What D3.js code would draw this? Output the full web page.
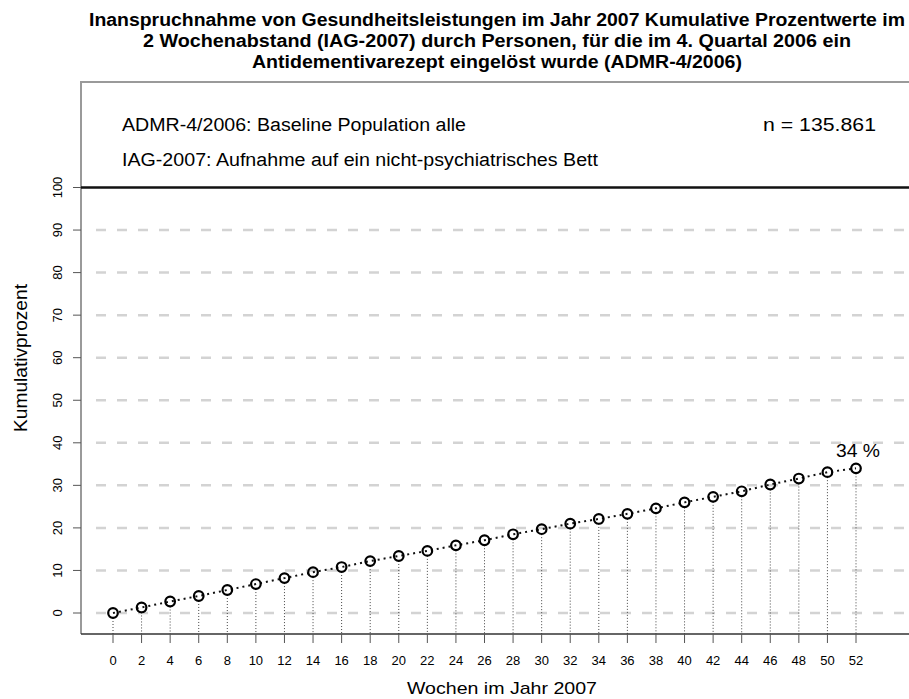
<!DOCTYPE html>
<html>
<head>
<meta charset="utf-8">
<script src="https://cdn.jsdelivr.net/npm/d3@7"></script>
<style>
  html, body { margin: 0; padding: 0; background: #fff; }
  svg { display: block; }
  text { font-family: "Liberation Sans", Arial, Helvetica, sans-serif; fill: #000; }
</style>
</head>
<body>
<svg id="chart" width="909" height="699"></svg>
<script>
// Kumulative Anteile je 2-Wochen-Schritt (Prozent)
const weeks = [0, 2, 4, 6, 8, 10, 12, 14, 16, 18, 20, 22, 24, 26, 28, 30, 32, 34, 36, 38, 40, 42, 44, 46, 48, 50, 52];
const cumulativePercent = [0, 1.3, 2.7, 4.0, 5.4, 6.8, 8.2, 9.6, 10.8, 12.2, 13.4, 14.6, 15.9, 17.1, 18.5, 19.7, 21.0, 22.1, 23.3, 24.6, 26.0, 27.3, 28.6, 30.2, 31.6, 33.1, 34];
const yTicks = [0, 10, 20, 30, 40, 50, 60, 70, 80, 90, 100];
const gridValues = [0, 10, 20, 30, 40, 50, 60, 70, 80, 90];

const titleLines = [
  "Inanspruchnahme von Gesundheitsleistungen im Jahr 2007 Kumulative Prozentwerte im",
  "2 Wochenabstand (IAG-2007) durch Personen, für die im 4. Quartal 2006 ein",
  "Antidementivarezept eingelöst wurde (ADMR-4/2006)"
];
const infoLines = [
  "ADMR-4/2006: Baseline Population alle",
  "IAG-2007: Aufnahme auf ein nicht-psychiatrisches Bett"
];
const sampleSize = "n = 135.861";
const xTitle = "Wochen im Jahr 2007";
const yTitle = "Kumulativprozent";

const svg = d3.select("#chart");

// Plot frame
const frame = { left: 81, top: 82, bottom: 634, right: 923 };

const x = d3.scaleLinear().domain([0, 52]).range([113, 856]);
const y = d3.scaleLinear().domain([0, 100]).range([613, 187.5]);

// Title
const titleWidths = [816, 708, 490];
titleLines.forEach((t, i) => {
  svg.append("text")
    .attr("x", 497)
    .attr("y", 26 + i * 21)
    .attr("text-anchor", "middle")
    .attr("font-weight", "bold")
    .attr("font-size", 17.5)
    .attr("textLength", titleWidths[i])
    .attr("lengthAdjust", "spacingAndGlyphs")
    .text(t);
});

// Frame border (top and left)
svg.append("path")
  .attr("d", `M${frame.left},${frame.bottom} V${frame.top} H${frame.right + 20}`)
  .attr("fill", "none")
  .attr("stroke", "#9a9a9a")
  .attr("stroke-width", 2);

// Dashed grid
svg.append("g").selectAll("line")
  .data(gridValues)
  .join("line")
  .attr("x1", 96)
  .attr("x2", frame.right + 20)
  .attr("y1", d => y(d))
  .attr("y2", d => y(d))
  .attr("stroke", "#d3d3d3")
  .attr("stroke-width", 2.5)
  .attr("stroke-dasharray", "10,11");

// 100 % reference line
svg.append("line")
  .attr("x1", frame.left)
  .attr("x2", frame.right + 20)
  .attr("y1", y(100))
  .attr("y2", y(100))
  .attr("stroke", "#111")
  .attr("stroke-width", 2.5);

// Info text
svg.append("text").attr("x", 122).attr("y", 131).attr("font-size", 18)
  .attr("textLength", 344).attr("lengthAdjust", "spacingAndGlyphs").text(infoLines[0]);
svg.append("text").attr("x", 122).attr("y", 166).attr("font-size", 18)
  .attr("textLength", 476).attr("lengthAdjust", "spacingAndGlyphs").text(infoLines[1]);
svg.append("text").attr("x", 763).attr("y", 131).attr("font-size", 18)
  .attr("textLength", 113).attr("lengthAdjust", "spacingAndGlyphs").text(sampleSize);

// Y axis ticks and labels
const yAxis = svg.append("g");
yAxis.selectAll("line")
  .data(yTicks)
  .join("line")
  .attr("x1", frame.left - 8)
  .attr("x2", frame.left)
  .attr("y1", d => y(d))
  .attr("y2", d => y(d))
  .attr("stroke", "#555")
  .attr("stroke-width", 1);
yAxis.selectAll("text")
  .data(yTicks)
  .join("text")
  .attr("transform", d => `translate(62,${y(d)}) rotate(-90)`)
  .attr("text-anchor", "middle")
  .attr("font-size", 13)
  .attr("fill", "#222")
  .text(d => d);

// Vertical drop lines
svg.append("g").selectAll("line")
  .data(weeks)
  .join("line")
  .attr("x1", d => x(d))
  .attr("x2", d => x(d))
  .attr("y1", (d, i) => y(cumulativePercent[i]) + 5)
  .attr("y2", frame.bottom)
  .attr("stroke", "#444")
  .attr("stroke-width", 1)
  .attr("stroke-dasharray", "1,2");

// Bottom axis
const xAxis = svg.append("g");
xAxis.append("line")
  .attr("x1", frame.left)
  .attr("x2", frame.right + 20)
  .attr("y1", frame.bottom)
  .attr("y2", frame.bottom)
  .attr("stroke", "#333")
  .attr("stroke-width", 1.5);
xAxis.selectAll("line.tick")
  .data(weeks)
  .join("line")
  .attr("class", "tick")
  .attr("x1", d => x(d))
  .attr("x2", d => x(d))
  .attr("y1", frame.bottom)
  .attr("y2", frame.bottom + 9)
  .attr("stroke", "#555")
  .attr("stroke-width", 1);
xAxis.selectAll("text")
  .data(weeks)
  .join("text")
  .attr("x", d => x(d))
  .attr("y", 665)
  .attr("text-anchor", "middle")
  .attr("font-size", 13)
  .attr("fill", "#222")
  .text(d => d);

// Connecting dotted line
const line = d3.line()
  .x((d, i) => x(weeks[i]))
  .y(d => y(d));
svg.append("path")
  .datum(cumulativePercent)
  .attr("d", line)
  .attr("fill", "none")
  .attr("stroke", "#111")
  .attr("stroke-width", 2)
  .attr("stroke-dasharray", "2,4");

// Points
svg.append("g").selectAll("circle")
  .data(cumulativePercent)
  .join("circle")
  .attr("cx", (d, i) => x(weeks[i]))
  .attr("cy", d => y(d))
  .attr("r", 4.8)
  .attr("fill", "none")
  .attr("stroke", "#000")
  .attr("stroke-width", 2.2);

// End label
const last = cumulativePercent.length - 1;
svg.append("text")
  .attr("x", x(weeks[last]) + 2)
  .attr("y", y(cumulativePercent[last]) - 11)
  .attr("text-anchor", "middle")
  .attr("font-size", 18)
  .attr("textLength", 44).attr("lengthAdjust", "spacingAndGlyphs")
  .text(Math.round(cumulativePercent[last]) + " %");

// Axis titles
svg.append("text")
  .attr("x", 502)
  .attr("y", 694)
  .attr("text-anchor", "middle")
  .attr("font-size", 17)
  .attr("textLength", 190).attr("lengthAdjust", "spacingAndGlyphs")
  .text(xTitle);
svg.append("text")
  .attr("transform", `translate(27,${(frame.top + frame.bottom) / 2}) rotate(-90)`)
  .attr("text-anchor", "middle")
  .attr("font-size", 17.5)
  .attr("textLength", 148).attr("lengthAdjust", "spacingAndGlyphs")
  .text(yTitle);
</script>
</body>
</html>
